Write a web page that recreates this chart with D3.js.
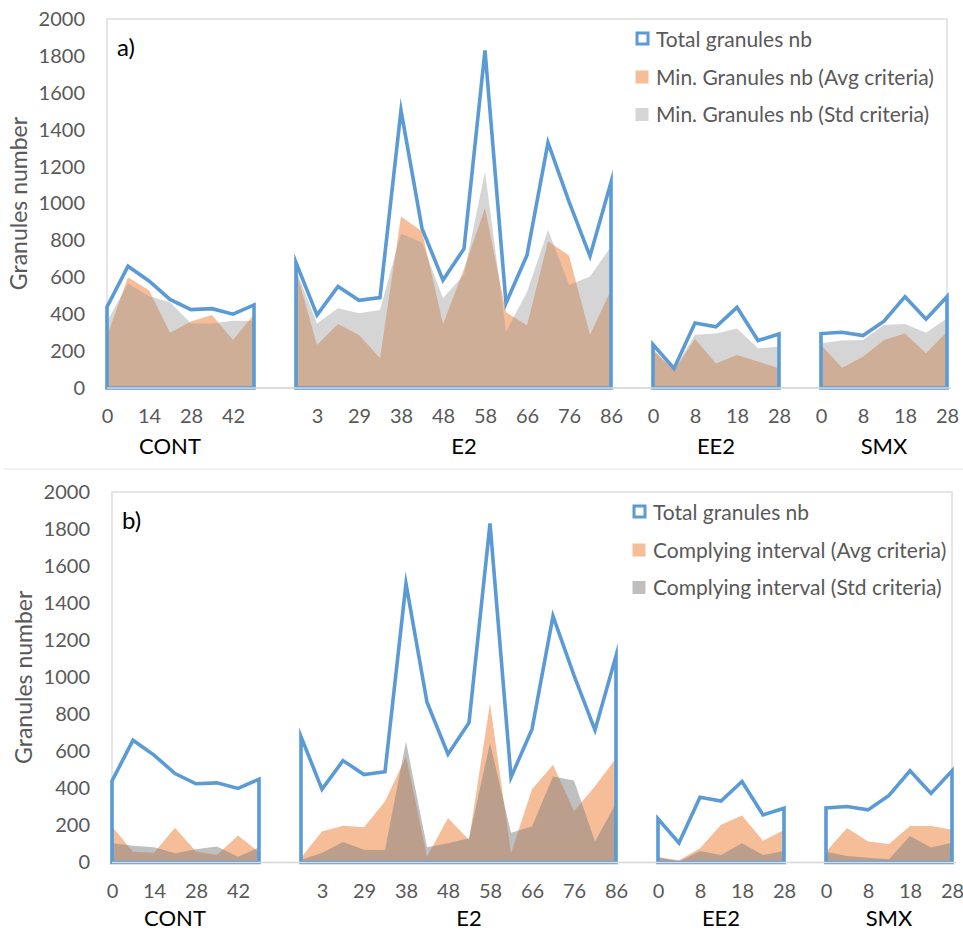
<!DOCTYPE html>
<html>
<head>
<meta charset="utf-8">
<script src="https://cdn.jsdelivr.net/npm/d3@7"></script>
<style>
  html, body { margin: 0; padding: 0; background: #ffffff; }
  svg { display: block; }
  text { font-family: Lato, "Open Sans", sans-serif; }
</style>
</head>
<body>
<svg id="chart" width="963" height="930"></svg>
<script>
// Treatment groups and the category index where each group's run of sampling days starts
const groups = ["CONT", "E2", "EE2", "SMX"];
const groupStart = [0, 9, 26, 34];
const groupLabelAt = [3, 17, 29, 37];
const categoryCount = 41;

// Sampling-day labels shown on every second category
const xTickLabels = ["0", "14", "28", "42", "", "3", "29", "38", "48", "58", "66", "76", "86",
                     "0", "8", "18", "28", "0", "8", "18", "28"];
const yTicks = [0, 200, 400, 600, 800, 1000, 1200, 1400, 1600, 1800, 2000];

// Total number of granules
const totalCONT = [440, 660, 580, 480, 425, 430, 400, 450];
const totalE2   = [680, 395, 550, 475, 490, 1505, 865, 585, 755, 1830, 460, 720, 1330, 1010, 715, 1115];
const totalEE2  = [236, 106, 352, 332, 437, 257, 293];
const totalSMX  = [295, 302, 284, 362, 495, 373, 495];

// a) Minimum number of granules
const minAvgCONT = [280, 600, 530, 300, 360, 395, 260, 400];
const minAvgE2   = [640, 233, 347, 287, 161, 930, 848, 347, 645, 975, 410, 340, 795, 718, 288, 531];
const minAvgEE2  = [205, 95, 265, 133, 179, 143, 107];
const minAvgSMX  = [233, 110, 170, 260, 296, 188, 305];

const minStdCONT = [360, 567, 497, 465, 350, 350, 365, 363];
const minStdE2   = [640, 350, 432, 405, 423, 838, 788, 486, 615, 1173, 305, 520, 856, 558, 605, 766];
const minStdEE2  = [210, 100, 288, 296, 323, 215, 224];
const minStdSMX  = [242, 257, 260, 341, 347, 300, 378];

// b) Complying interval
const compAvgCONT = [194, 58, 52, 188, 60, 40, 146, 56];
const compAvgE2   = [25, 168, 199, 190, 329, 572, 31, 240, 122, 860, 50, 396, 527, 276, 412, 563];
const compAvgEE2  = [28, 12, 77, 204, 254, 117, 176];
const compAvgSMX  = [58, 186, 113, 100, 197, 197, 177];

const compStdCONT = [104, 90, 82, 50, 71, 86, 31, 82];
const compStdE2   = [15, 51, 110, 69, 68, 653, 82, 104, 131, 644, 161, 194, 464, 442, 113, 320];
const compStdEE2  = [28, 5, 62, 40, 104, 40, 62];
const compStdSMX  = [58, 35, 26, 17, 143, 81, 107];

const total = [totalCONT, totalE2, totalEE2, totalSMX];

const BLUE = "#5B9BD5";
const AXIS_GREY = "#D9D9D9";
const TEXT_GREY = "#595959";

const svg = d3.select("#chart");

// faint divider between the two panels
svg.append("line")
  .attr("x1", 4).attr("x2", 963).attr("y1", 469).attr("y2", 469)
  .attr("stroke", "#EDEDED").attr("stroke-width", 1.5);

function toPoints(arrays) {
  return arrays.map((vals, g) => vals.map((v, k) => ({ i: groupStart[g] + k, v })));
}

function drawPanel(p) {
  const x = d3.scalePoint().domain(d3.range(categoryCount)).range([p.left, p.right]);
  const y = d3.scaleLinear().domain([0, 2000]).range([p.bottom, p.top]);
  const root = svg.append("g");

  // plot area frame
  root.append("rect")
    .attr("x", p.left).attr("y", p.top)
    .attr("width", p.right - p.left).attr("height", p.bottom - p.top)
    .attr("fill", "none").attr("stroke", AXIS_GREY).attr("stroke-width", 1.3);

  const area = d3.area().x(d => x(d.i)).y0(y(0)).y1(d => y(d.v));

  // shaded series, one area per treatment group
  p.fills.forEach(s => {
    toPoints(s.data).forEach(pts => {
      root.append("path").attr("d", area(pts)).attr("fill", s.color);
    });
  });

  // total granules: outlined area per group
  const outline = d3.line().x(d => x(d.i)).y(d => y(d.v)).curve(d3.curveLinearClosed);
  toPoints(total).forEach(pts => {
    const ring = [{ i: pts[0].i, v: 0 }, ...pts, { i: pts[pts.length - 1].i, v: 0 }];
    root.append("path").attr("d", outline(ring))
      .attr("fill", "none").attr("stroke", BLUE)
      .attr("stroke-width", 3.6).attr("stroke-linejoin", "miter").attr("stroke-miterlimit", 10);
  });

  // y axis
  const yAxis = root.append("g")
    .attr("transform", `translate(${p.left},0)`)
    .call(d3.axisLeft(y).tickValues(yTicks).tickSize(0).tickPadding(22).tickFormat(d3.format("d")));
  yAxis.select(".domain").remove();
  yAxis.selectAll("text").attr("fill", TEXT_GREY).style("font-size", "20px")
    .style("font-family", "Lato, sans-serif");

  // x axis with day labels on every second category
  const xAxis = root.append("g")
    .attr("transform", `translate(0,${p.bottom})`)
    .call(d3.axisBottom(x)
      .tickValues(d3.range(0, categoryCount, 2))
      .tickSize(0).tickPadding(21)
      .tickFormat(d => xTickLabels[d / 2]));
  xAxis.select(".domain").remove();
  xAxis.selectAll("text").attr("fill", TEXT_GREY).style("font-size", "20px")
    .style("font-family", "Lato, sans-serif");

  // baseline
  root.append("line")
    .attr("x1", p.left).attr("x2", p.right + 4)
    .attr("y1", y(0)).attr("y2", y(0))
    .attr("stroke", AXIS_GREY).attr("stroke-width", 1.3);

  // treatment group labels
  groups.forEach((g, j) => {
    root.append("text")
      .attr("x", x(groupLabelAt[j])).attr("y", p.bottom + p.groupDy)
      .attr("text-anchor", "middle").attr("fill", "#000")
      .style("font-size", "22px").text(g);
  });

  // axis title
  root.append("text")
    .attr("transform", `translate(${p.left - 80},${(p.top + p.bottom) / 2}) rotate(-90)`)
    .attr("text-anchor", "middle").attr("fill", TEXT_GREY)
    .style("font-size", "23px").text("Granules number");

  // panel letter
  root.append("text")
    .attr("x", p.left + 10).attr("y", p.top + 37)
    .attr("fill", "#000").style("font-size", "24px").text(p.letter);

  // legend
  const lg = root.append("g");
  lg.append("rect")
    .attr("x", p.legendX).attr("y", p.top + 14)
    .attr("width", 11).attr("height", 11)
    .attr("fill", "#fff").attr("stroke", BLUE).attr("stroke-width", 3);
  lg.append("text").attr("x", p.legendX + 19).attr("y", p.top + 27.5)
    .attr("fill", TEXT_GREY).style("font-size", "21px").text("Total granules nb");
  p.fills.forEach((s, j) => {
    const cy = p.top + 58 + j * 37.5;
    lg.append("rect")
      .attr("x", p.legendX - 1.5).attr("y", cy - 6.5)
      .attr("width", 13).attr("height", 13)
      .attr("fill", s.color);
    lg.append("text").attr("x", p.legendX + 19).attr("y", cy + 7.5)
      .attr("fill", TEXT_GREY).style("font-size", "21px").text(s.name);
  });
}

drawPanel({
  letter: "a)",
  left: 107, right: 947, top: 19, bottom: 388,
  legendX: 637, groupDy: 66,
  fills: [
    { name: "Min. Granules nb (Avg criteria)", color: "rgba(237,125,49,0.5)",
      data: [minAvgCONT, minAvgE2, minAvgEE2, minAvgSMX] },
    { name: "Min. Granules nb (Std criteria)", color: "rgba(150,150,150,0.4)",
      data: [minStdCONT, minStdE2, minStdEE2, minStdSMX] }
  ]
});

drawPanel({
  letter: "b)",
  left: 112, right: 952, top: 492, bottom: 862.5,
  legendX: 634, groupDy: 63,
  fills: [
    { name: "Complying interval (Avg criteria)", color: "rgba(237,125,49,0.5)",
      data: [compAvgCONT, compAvgE2, compAvgEE2, compAvgSMX] },
    { name: "Complying interval (Std criteria)", color: "rgba(128,128,128,0.5)",
      data: [compStdCONT, compStdE2, compStdEE2, compStdSMX] }
  ]
});
</script>
</body>
</html>
